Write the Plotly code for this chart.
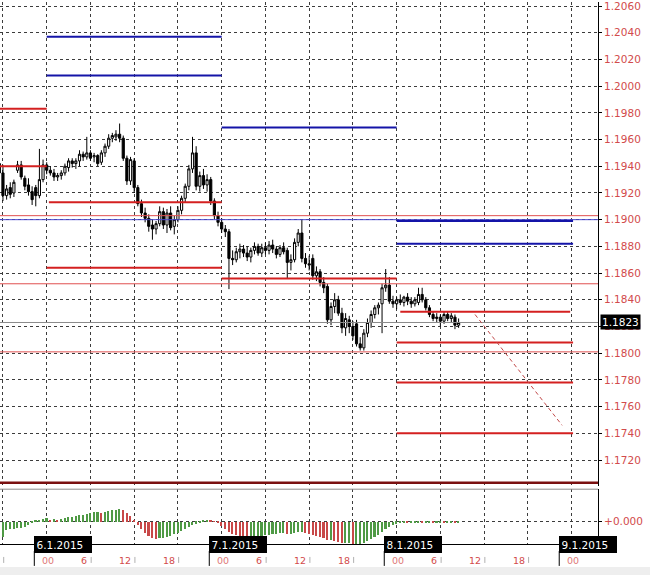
import plotly.graph_objects as go

# ---- data (EURUSD-like, M30 bars; x = hours from 6.1.2015 00:00) ----
bar_hours = [-6.5 + 0.5 * i for i in range(127)]

opens = [1.1942, 1.1935, 1.1918, 1.1924, 1.1920, 1.1937, 1.1941, 1.1931, 1.1926, 1.1921,
         1.1924, 1.1918, 1.1930, 1.1941, 1.1937, 1.1935, 1.1932, 1.1933, 1.1935, 1.1939,
         1.1944, 1.1942, 1.1944, 1.1949, 1.1947, 1.1950, 1.1947, 1.1948, 1.1943, 1.1950,
         1.1955, 1.1961, 1.1962, 1.1964, 1.1961, 1.1946, 1.1929, 1.1944, 1.1924, 1.1912,
         1.1905, 1.1901, 1.1896, 1.1893, 1.1897, 1.1906, 1.1896, 1.1905, 1.1895, 1.1900,
         1.1907, 1.1916, 1.1925, 1.1938, 1.1950, 1.1925, 1.1933, 1.1926, 1.1930, 1.1914,
         1.1903, 1.1898, 1.1893, 1.1891, 1.1871, 1.1870, 1.1876, 1.1878, 1.1875, 1.1872,
         1.1877, 1.1880, 1.1875, 1.1879, 1.1877, 1.1881, 1.1878, 1.1874, 1.1879, 1.1877,
         1.1868, 1.1870, 1.1883, 1.1890, 1.1871, 1.1867, 1.1871, 1.1858, 1.1861, 1.1853,
         1.1850, 1.1825, 1.1835, 1.1840, 1.1830, 1.1819, 1.1825, 1.1820, 1.1822, 1.1807,
         1.1804, 1.1815, 1.1823, 1.1829, 1.1834, 1.1837, 1.1849, 1.1851, 1.1839, 1.1837,
         1.1840, 1.1838, 1.1842, 1.1839, 1.1837, 1.1838, 1.1844, 1.1840, 1.1834, 1.1829,
         1.1826, 1.1827, 1.1824, 1.1829, 1.1826, 1.1827, 1.1821]
highs = [1.1945, 1.1941, 1.1926, 1.1928, 1.1930, 1.1944, 1.1944, 1.1933, 1.1931, 1.1925,
         1.1926, 1.1953, 1.1945, 1.1943, 1.1940, 1.1938, 1.1935, 1.1937, 1.1942, 1.1946,
         1.1946, 1.1946, 1.1952, 1.1951, 1.1962, 1.1952, 1.1950, 1.1949, 1.1952, 1.1957,
         1.1964, 1.1965, 1.1967, 1.1972, 1.1963, 1.1948, 1.1947, 1.1946, 1.1926, 1.1915,
         1.1909, 1.1904, 1.1900, 1.1899, 1.1910, 1.1909, 1.1908, 1.1910, 1.1903, 1.1910,
         1.1918, 1.1927, 1.1941, 1.1962, 1.1955, 1.1936, 1.1938, 1.1934, 1.1932, 1.1916,
         1.1906, 1.1901, 1.1896, 1.1893, 1.1877, 1.1879, 1.1882, 1.1881, 1.1880, 1.1879,
         1.1883, 1.1882, 1.1882, 1.1883, 1.1884, 1.1885, 1.1880, 1.1881, 1.1883, 1.1879,
         1.1874, 1.1886, 1.1893, 1.1900, 1.1875, 1.1873, 1.1874, 1.1865, 1.1863, 1.1857,
         1.1852, 1.1838, 1.1845, 1.1843, 1.1834, 1.1830, 1.1828, 1.1824, 1.1825, 1.1812,
         1.1818, 1.1826, 1.1832, 1.1836, 1.1838, 1.1852, 1.1863, 1.1857, 1.1843, 1.1842,
         1.1844, 1.1843, 1.1845, 1.1842, 1.1842, 1.1849, 1.1849, 1.1842, 1.1836, 1.1831,
         1.1830, 1.1829, 1.1831, 1.1831, 1.1830, 1.1829, 1.1826]
lows = [1.1932, 1.1914, 1.1915, 1.1916, 1.1917, 1.1935, 1.1930, 1.1922, 1.1918, 1.1911,
        1.1910, 1.1916, 1.1928, 1.1934, 1.1933, 1.1929, 1.1929, 1.1930, 1.1933, 1.1936,
        1.1939, 1.1938, 1.1940, 1.1944, 1.1945, 1.1944, 1.1943, 1.1940, 1.1941, 1.1947,
        1.1953, 1.1958, 1.1959, 1.1958, 1.1944, 1.1926, 1.1926, 1.1920, 1.1910, 1.1902,
        1.1898, 1.1891, 1.1885, 1.1889, 1.1895, 1.1893, 1.1890, 1.1892, 1.1889, 1.1898,
        1.1904, 1.1913, 1.1922, 1.1935, 1.1922, 1.1921, 1.1923, 1.1921, 1.1911, 1.1900,
        1.1895, 1.1890, 1.1887, 1.1848, 1.1866, 1.1868, 1.1871, 1.1872, 1.1869, 1.1868,
        1.1874, 1.1873, 1.1872, 1.1874, 1.1874, 1.1875, 1.1871, 1.1872, 1.1874, 1.1856,
        1.1862, 1.1868, 1.1880, 1.1868, 1.1864, 1.1862, 1.1855, 1.1854, 1.1850, 1.1845,
        1.1822, 1.1821, 1.1830, 1.1828, 1.1815, 1.1813, 1.1815, 1.1810, 1.1805, 1.1802,
        1.1802, 1.1812, 1.1819, 1.1826, 1.1829, 1.1815, 1.1846, 1.1837, 1.1834, 1.1833,
        1.1836, 1.1835, 1.1836, 1.1834, 1.1835, 1.1836, 1.1838, 1.1832, 1.1827, 1.1824,
        1.1823, 1.1820, 1.1822, 1.1824, 1.1823, 1.1818, 1.1819]
closes = [1.1935, 1.1918, 1.1923, 1.1919, 1.1928, 1.1941, 1.1932, 1.1925, 1.1921, 1.1915,
          1.1918, 1.1930, 1.1941, 1.1937, 1.1935, 1.1932, 1.1933, 1.1935, 1.1940, 1.1944,
          1.1942, 1.1944, 1.1949, 1.1947, 1.1950, 1.1946, 1.1948, 1.1942, 1.1950, 1.1955,
          1.1961, 1.1963, 1.1964, 1.1961, 1.1946, 1.1929, 1.1945, 1.1924, 1.1912, 1.1905,
          1.1901, 1.1895, 1.1893, 1.1897, 1.1906, 1.1896, 1.1905, 1.1894, 1.1900, 1.1907,
          1.1916, 1.1925, 1.1938, 1.1950, 1.1925, 1.1933, 1.1926, 1.1930, 1.1914, 1.1903,
          1.1898, 1.1893, 1.1891, 1.1871, 1.1870, 1.1876, 1.1878, 1.1875, 1.1872, 1.1877,
          1.1880, 1.1875, 1.1879, 1.1877, 1.1881, 1.1878, 1.1874, 1.1879, 1.1876, 1.1868,
          1.1870, 1.1883, 1.1890, 1.1871, 1.1867, 1.1866, 1.1858, 1.1861, 1.1853, 1.1849,
          1.1825, 1.1835, 1.1840, 1.1830, 1.1819, 1.1826, 1.1820, 1.1813, 1.1807, 1.1804,
          1.1815, 1.1823, 1.1829, 1.1834, 1.1836, 1.1849, 1.1851, 1.1839, 1.1837, 1.1840,
          1.1838, 1.1842, 1.1839, 1.1837, 1.1840, 1.1844, 1.1840, 1.1834, 1.1829, 1.1826,
          1.1827, 1.1824, 1.1829, 1.1826, 1.1828, 1.1821, 1.1823]

osma = [-0.00032, -0.00030, -0.00016, -0.00014, -0.00014, -0.00012, -0.00012, -0.00010, -0.00006, -0.00002,
        0.00002, 0.00004, 0.00006, 0.00008, 0.00004, 0.00006, 0.00004, 0.00006, 0.00008, 0.00010,
        0.00010, 0.00012, 0.00014, 0.00014, 0.00016, 0.00018, 0.00020, 0.00020, 0.00018, 0.00020,
        0.00022, 0.00024, 0.00024, 0.00026, 0.00024, 0.00018, 0.00012, 0.00004, -0.00006, -0.00014,
        -0.00022, -0.00028, -0.00032, -0.00034, -0.00032, -0.00032, -0.00030, -0.00028, -0.00024, -0.00022,
        -0.00018, -0.00014, -0.00010, -0.00006, -0.00004, -0.00002, 0.00002, 0.00004, 0.00002, 0.00001,
        -0.00002, -0.00008, -0.00014, -0.00020, -0.00024, -0.00026, -0.00028, -0.00030, -0.00032, -0.00030,
        -0.00030, -0.00028, -0.00028, -0.00026, -0.00026, -0.00024, -0.00024, -0.00022, -0.00022, -0.00024,
        -0.00024, -0.00022, -0.00020, -0.00020, -0.00022, -0.00024, -0.00026, -0.00028, -0.00030, -0.00032,
        -0.00036, -0.00036, -0.00038, -0.00040, -0.00042, -0.00042, -0.00042, -0.00044, -0.00044, -0.00044,
        -0.00042, -0.00038, -0.00034, -0.00030, -0.00026, -0.00020, -0.00014, -0.00010, -0.00006, -0.00004,
        -0.00003, -0.00002, -0.00003, -0.00002, -0.00002, -0.00001, -0.00002, -0.00001, -0.00001, -0.00002,
        -0.00002, -0.00001, -0.00002, -0.00002, -0.00001, -0.00002, -0.00002]

# level segments (price, from hour, to hour)
blue_levels = [1.2037, 1.2008, 1.1969, 1.1899, 1.1882]
blue_from = [0, 0, 24, 48, 48]
blue_to = [24, 24, 48, 72.2, 72.2]

red_levels = [1.1983, 1.1940, 1.1913, 1.1864, 1.1856, 1.1831, 1.1808, 1.1778, 1.1740]
red_from = [-6.5, -6.5, 0.3, 0, 24, 48.5, 48, 48, 48]
red_to = [0, 0, 24, 24, 48, 71.8, 72.2, 72.2, 72.2]

# full-width lines
red_full = [1.1903, 1.1852, 1.1801]
blue_full = [1.1900]
bid_price = 1.1823
bottom_level = 1.1703

trend_hours = [58.75, 70.7]
trend_prices = [1.1829, 1.1746]

price_ticks = [1.1720, 1.1740, 1.1760, 1.1780, 1.1800, 1.1820, 1.1840, 1.1860, 1.1880,
               1.1900, 1.1920, 1.1940, 1.1960, 1.1980, 1.2000, 1.2020, 1.2040, 1.2060]
hour_ticks = [-6, 0, 6, 12, 18, 24, 30, 36, 42, 48, 54, 60, 66, 72]
hour_text = ["18", "00", "6", "12", "18", "00", "6", "12", "18", "00", "6", "12", "18", "00"]
day_hours = [0, 24, 48, 72]
day_text = ["6.1.2015", "7.1.2015", "8.1.2015", "9.1.2015"]

# ---- figure ----
FONT = "DejaVu Sans"
RED_TXT = "#d24b4b"
X_RANGE = [-6.406, 75.62]
PLOT_H = 544.0

fig = go.Figure()

fig.add_trace(go.Candlestick(
    x=bar_hours, open=opens, high=highs, low=lows, close=closes,
    increasing=dict(line=dict(color="black", width=1), fillcolor="white"),
    decreasing=dict(line=dict(color="black", width=1), fillcolor="black"),
    whiskerwidth=0, hoverinfo="skip", showlegend=False,
    xaxis="x", yaxis="y"))


def hline(x0, x1, p, color, width, dash="solid"):
    fig.add_trace(go.Scatter(
        x=[x0, x1], y=[p, p], mode="lines",
        line=dict(color=color, width=width, dash=dash),
        hoverinfo="skip", showlegend=False, xaxis="x", yaxis="y"))


for p in red_full:
    hline(-7, 76, p, "#e05050", 1)
for p in blue_full:
    hline(-7, 76, p, "#4a4ad0", 1)
hline(-7, 76, bid_price, "#8a8a8a", 1)
hline(-7, 76, bottom_level, "#7a1010", 2.5)

for p, a, b in zip(blue_levels, blue_from, blue_to):
    hline(a, b, p, "#1414a8", 2)
for p, a, b in zip(red_levels, red_from, red_to):
    hline(a, b, p, "#d42020", 2)

fig.add_trace(go.Scatter(
    x=trend_hours, y=trend_prices, mode="lines",
    line=dict(color="#c04848", width=1, dash="4px,3px"),
    hoverinfo="skip", showlegend=False, xaxis="x", yaxis="y"))

# oscillator histogram: green when rising, red when falling
bar_colors = []
prev = None
for v in osma:
    bar_colors.append("#4f9a45" if prev is None or v >= prev else "#c84848")
    prev = v
fig.add_trace(go.Bar(
    x=bar_hours, y=osma, marker=dict(color=bar_colors, line=dict(width=0)),
    width=0.22, hoverinfo="skip", showlegend=False, xaxis="x2", yaxis="y2"))

grid = dict(showgrid=True, gridcolor="#3c3c3c", gridwidth=1, griddash="3px,3px")

fig.update_layout(
    width=650, height=575, autosize=False,
    margin=dict(l=0, r=52, t=0, b=31),
    paper_bgcolor="white", plot_bgcolor="white",
    font=dict(family=FONT, size=10, color=RED_TXT),
    bargap=0, boxgap=0.15,
    xaxis=dict(domain=[0, 1], range=X_RANGE, anchor="y", tickvals=hour_ticks,
               showticklabels=False, ticks="", zeroline=False, showline=False,
               rangeslider=dict(visible=False), **grid),
    xaxis2=dict(domain=[0, 1], range=X_RANGE, anchor="y2", matches="x",
                tickvals=hour_ticks, showticklabels=False, ticks="", zeroline=False,
                showline=True, linecolor="black", linewidth=1, **grid),
    yaxis=dict(domain=[1 - 486 / PLOT_H, 1], range=[1.17004, 1.20630], side="right",
               tickvals=price_ticks, tickformat=".4f", ticklabeloverflow="allow",
               tickfont=dict(family=FONT, size=10.5, color=RED_TXT),
               ticks="outside", ticklen=3, tickcolor="black",
               showline=True, linecolor="black", linewidth=1, zeroline=False, **grid),
    yaxis2=dict(domain=[0, 1 - 489 / PLOT_H], range=[-0.000446, 0.000654], side="right",
                tickvals=[0], ticktext=["+0.000"],
                tickfont=dict(family=FONT, size=10.5, color=RED_TXT),
                ticks="outside", ticklen=3, tickcolor="black",
                showline=True, linecolor="black", linewidth=1, zeroline=False, **grid),
)

shapes = []
# indicator window top border
shapes.append(dict(type="line", xref="paper", yref="paper", x0=0, x1=1,
                   y0=1 - 489 / PLOT_H, y1=1 - 489 / PLOT_H,
                   line=dict(color="#8c8c8c", width=1)))
# light strip at the very bottom of the window
shapes.append(dict(type="rect", xref="paper", yref="paper", x0=0, x1=650 / 598,
                   y0=-31 / PLOT_H, y1=-23 / PLOT_H, fillcolor="#eeeeee",
                   line=dict(width=0), layer="below"))

annotations = []
for h, t in zip(hour_ticks, hour_text):
    if t == "00":
        annotations.append(dict(x=h, xref="x", y=0, yref="paper", yshift=-16, xshift=1,
                                text=t, showarrow=False, xanchor="center", yanchor="middle",
                                font=dict(family=FONT, size=9.5, color="#e07878")))
    else:
        annotations.append(dict(x=h, xref="x", y=0, yref="paper", yshift=-16, xshift=-1,
                                text=t, showarrow=False, xanchor="right", yanchor="middle",
                                font=dict(family=FONT, size=9.5, color=RED_TXT)))
        shapes.append(dict(type="line", xref="x", yref="paper", x0=h + 0.1, x1=h + 0.1,
                           y0=-13 / PLOT_H, y1=-19 / PLOT_H,
                           line=dict(color="#b0b0b0", width=1)))

for h, t in zip(day_hours, day_text):
    annotations.append(dict(x=h - 1.7, xref="x", y=0, yref="paper", text=t,
                            showarrow=False, xanchor="left", yanchor="middle",
                            width=53, height=12, align="left", borderpad=1.5,
                            bgcolor="black", bordercolor="black",
                            font=dict(family=FONT, size=10.5, color="white")))
    shapes.append(dict(type="line", xref="x", yref="paper", x0=h - 1.7, x1=h - 1.7,
                       y0=-7 / PLOT_H, y1=-22 / PLOT_H,
                       line=dict(color="black", width=1)))

# current bid label on the price scale
annotations.append(dict(x=1, xref="paper", y=bid_price, yref="y", xshift=2,
                        text=f"{bid_price:.4f}", showarrow=False, xanchor="left",
                        yanchor="middle", bgcolor="black", borderpad=1,
                        font=dict(family=FONT, size=10.5, color="white")))

fig.update_layout(shapes=shapes, annotations=annotations)

# the page body has a default 8px margin; drop it so the figure sits at the window corner
fig.write_html("out.html", config={"displayModeBar": False},
               post_script="document.body.style.margin='0';")
